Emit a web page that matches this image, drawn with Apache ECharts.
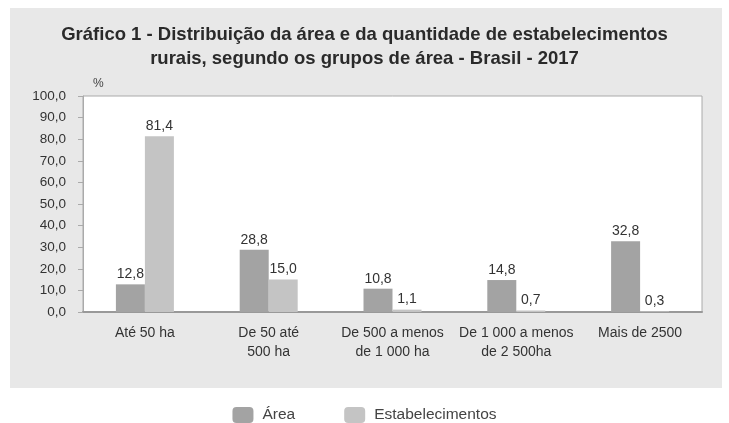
<!DOCTYPE html>
<html><head><meta charset="utf-8">
<script src="https://cdn.jsdelivr.net/npm/echarts@6/dist/echarts.min.js"></script>
<style>html,body{margin:0;padding:0;background:#fff}#c{width:729px;height:423px}</style>
</head><body><div id="c"></div>
<script>
const categories = ['Até 50 ha', 'De 50 até\n500 ha', 'De 500 a menos\nde 1 000 ha', 'De 1 000 a menos\nde 2 500ha', 'Mais de 2500'];
const area = [12.8, 28.8, 10.8, 14.8, 32.8];
const estabelecimentos = [81.4, 15.0, 1.1, 0.7, 0.3];
const seriesNames = ['Área', 'Estabelecimentos'];
const titleText = 'Gráfico 1 - Distribuição da área e da quantidade de estabelecimentos\nrurais, segundo os grupos de área - Brasil - 2017';

const fmt = v => Number(v).toFixed(1).replace('.', ',');
const chart = echarts.init(document.getElementById('c'), null, {renderer: 'canvas'});
const font = 'Liberation Sans, Arial, sans-serif';
chart.setOption({
  animation: false,
  textStyle: {fontFamily: font},
  graphic: [{type: 'rect', z: -10, shape: {x: 10, y: 8, width: 712, height: 380}, style: {fill: '#e8e8e8'}}],
  title: {text: titleText, left: 'center', top: 18,
    textStyle: {fontFamily: font, fontSize: 18.5, fontWeight: 'bold', color: '#2a2a2a', lineHeight: 24}},
  legend: {top: 407, left: 'center', padding: 0, itemWidth: 21, itemHeight: 16, itemGap: 49,
    textStyle: {fontSize: 15.5, color: '#444', padding: [2, 0, 0, 4]}, data: seriesNames},
  grid: {left: 83, right: 27, top: 96, bottom: 111, show: true, backgroundColor: '#fff', borderColor: '#aaa', borderWidth: 1},
  xAxis: {type: 'category', data: categories,
    axisLine: {lineStyle: {color: '#999', width: 2}}, axisTick: {show: false},
    axisLabel: {color: '#333', fontSize: 14, lineHeight: 19, margin: 12, interval: 0}},
  yAxis: {type: 'value', min: 0, max: 100, interval: 10, name: '%', nameLocation: 'end', nameGap: 6,
    nameTextStyle: {color: '#444', fontSize: 12, align: 'left', padding: [0, 0, 0, 10]},
    axisLine: {show: true, lineStyle: {color: '#aaa'}}, axisTick: {show: true, length: 5, lineStyle: {color: '#aaa'}},
    splitLine: {show: false},
    axisLabel: {color: '#333', fontSize: 13.5, margin: 17, formatter: fmt}},
  series: [
    {name: seriesNames[0], type: 'bar', data: area, barWidth: 29, barGap: '0%', itemStyle: {color: '#a3a3a3'},
      label: {show: true, position: 'top', color: '#333', fontSize: 14, distance: 3, formatter: p => fmt(p.value)}},
    {name: seriesNames[1], type: 'bar', data: estabelecimentos, barWidth: 29, barGap: '0%', itemStyle: {color: '#c4c4c4'},
      label: {show: true, position: 'top', color: '#333', fontSize: 14, distance: 3, formatter: p => fmt(p.value)}}
  ]
});
</script></body></html>
